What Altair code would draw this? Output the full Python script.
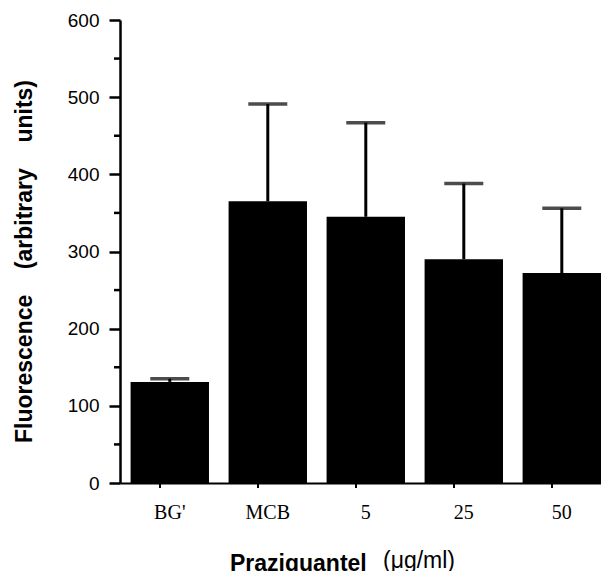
import altair as alt
import pandas as pd

categories = ["BG'", "MCB", "5", "25", "50"]
means = [131, 365, 345, 290, 272]
upper = [135, 491, 467, 388, 356]
y_major = [0, 100, 200, 300, 400, 500, 600]
y_minor = [50, 150, 250, 350, 450, 550]

df = pd.DataFrame({"cat": categories, "mean": means, "upper": upper})
df_minor = pd.DataFrame({"v": y_minor})
df_cat = pd.DataFrame({"cat": categories})

xscale = alt.Scale(domain=categories, paddingInner=0.2, paddingOuter=0.054, align=1)
yscale = alt.Scale(domain=[0, 600], nice=False, zero=True)

NB = "\u00a0"
ytitle = "Fluorescence" + NB * 4 + "(arbitrary" + NB * 4 + "units)"

xaxis = alt.Axis(title=None, labelAngle=0, ticks=False, tickSize=0,
                 labelFont="Liberation Serif", labelFontSize=20,
                 labelColor="black", labelPadding=19,
                 domainColor="black", domainWidth=2)
yaxis = alt.Axis(values=y_major, tickSize=11, tickWidth=2.5, tickColor="black",
                 domainColor="black", domainWidth=2.5, grid=False,
                 labelFont="Liberation Sans", labelFontSize=19,
                 labelColor="black", labelPadding=10,
                 title=ytitle,
                 titleFont="Liberation Sans", titleFontSize=23,
                 titleFontWeight="bold", titleColor="black",
                 titleAngle=-90, titleBaseline="alphabetic",
                 titleAlign="center", titleX=-89, titleY=241)

bars = alt.Chart(df).mark_bar(color="black").encode(
    x=alt.X("cat:N", scale=xscale, axis=xaxis),
    y=alt.Y("mean:Q", scale=yscale, axis=yaxis),
)

err = alt.Chart(df).mark_rule(color="black", strokeWidth=3).encode(
    x=alt.X("cat:N", scale=xscale, axis=xaxis),
    y=alt.Y("mean:Q", scale=yscale, axis=yaxis),
    y2="upper:Q",
)

caps = alt.Chart(df).mark_tick(color="black", size=39, thickness=3.5).encode(
    x=alt.X("cat:N", scale=xscale, axis=xaxis),
    y=alt.Y("upper:Q", scale=yscale, axis=yaxis),
)

minor = alt.Chart(df_minor).mark_rule(color="black", strokeWidth=2.5).encode(
    y=alt.Y("v:Q", scale=yscale, axis=yaxis),
    x=alt.value(-6),
    x2=alt.value(0),
)

xticks = alt.Chart(df_cat).mark_rule(color="black", strokeWidth=2, xOffset=-9.8).encode(
    x=alt.X("cat:N", scale=xscale, axis=xaxis),
    y=alt.value(463),
    y2=alt.value(468),
)

title1 = alt.Chart(df_cat.head(1)).mark_text(
    text="Praziquantel", font="Liberation Sans", fontSize=23, fontWeight="bold",
    align="left", baseline="alphabetic", color="black",
).encode(x=alt.value(110), y=alt.value(551))

title2 = alt.Chart(df_cat.head(1)).mark_text(
    text="(\u03bcg/ml)", font="Liberation Sans", fontSize=23,
    align="left", baseline="alphabetic", color="black",
).encode(x=alt.value(263), y=alt.value(548))

chart = alt.layer(bars, err, caps, minor, xticks, title1, title2).properties(
    width=481, height=463,
    autosize=alt.AutoSizeParams(type="none"),
    padding={"left": 120, "top": 20, "right": 0, "bottom": 88},
    background="white",
).configure_view(stroke=None)

chart.save("out.html", embed_options={"renderer": "svg", "actions": False})
